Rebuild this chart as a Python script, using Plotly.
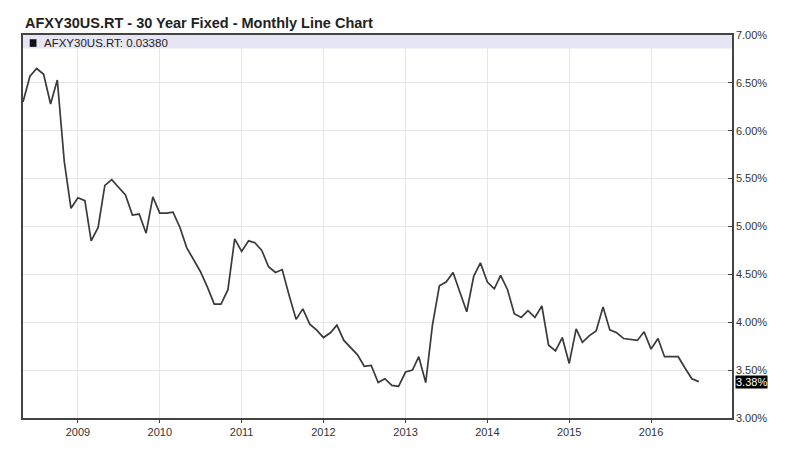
import pandas as pd
import plotly.graph_objects as go

# Monthly observations, May 2008 .. Aug 2016 (rate in percent)
months = pd.date_range("2008-05-01", "2016-08-01", freq="MS")
rates = [
    6.30, 6.57, 6.65, 6.59, 6.28, 6.53, 5.68, 5.19, 5.30, 5.27,
    4.85, 4.99, 5.43, 5.49, 5.41, 5.33, 5.12, 5.13, 4.93, 5.31,
    5.14, 5.14, 5.15, 4.99, 4.78, 4.65, 4.53, 4.37, 4.19, 4.19,
    4.34, 4.87, 4.74, 4.85, 4.83, 4.75, 4.58, 4.52, 4.55, 4.28,
    4.03, 4.14, 3.98, 3.92, 3.84, 3.89, 3.97, 3.81, 3.74, 3.66,
    3.54, 3.55, 3.37, 3.41, 3.34, 3.33, 3.48, 3.50, 3.64, 3.37,
    3.97, 4.38, 4.42, 4.52, 4.31, 4.11, 4.48, 4.62, 4.42, 4.35,
    4.49, 4.34, 4.09, 4.05, 4.12, 4.05, 4.17, 3.76, 3.70, 3.84,
    3.57, 3.93, 3.79, 3.86, 3.91, 4.16, 3.92, 3.89, 3.83, 3.82,
    3.81, 3.90, 3.72, 3.83, 3.64, 3.64, 3.64, 3.52, 3.41, 3.38,
]
year_ticks = [f"{y}-01-01" for y in range(2009, 2017)]
year_labels = [str(y) for y in range(2009, 2017)]
y_ticks = [3.0, 3.5, 4.0, 4.5, 5.0, 5.5, 6.0, 6.5, 7.0]
y_labels = [f"{v:.2f}%" for v in y_ticks]

title_text = "AFXY30US.RT - 30 Year Fixed - Monthly Line Chart"
legend_text = "AFXY30US.RT: 0.03380"
last_label = "3.38%"

FONT = "Liberation Sans, Arial, sans-serif"

fig = go.Figure()
fig.add_trace(go.Scatter(
    x=months, y=rates, mode="lines",
    line=dict(color="#3a3a3a", width=1.7),
    hoverinfo="skip", showlegend=False,
))

# legend band along the top of the plot
fig.add_shape(type="rect", xref="paper", yref="y", x0=0, x1=1, y0=6.859, y1=7.0,
              fillcolor="#e5e5f3", line=dict(width=0), layer="below")
# legend marker square
fig.add_shape(type="rect", xref="paper", yref="y", x0=0.0095, x1=0.0190,
              y0=6.876, y1=6.956, fillcolor="#111111", line=dict(width=0))

fig.add_annotation(text=legend_text, xref="paper", yref="y", x=0.0262, y=6.918,
                   xanchor="left", yanchor="middle", showarrow=False,
                   font=dict(family=FONT, size=11.5, color="#222222"))

fig.add_annotation(text=last_label, xref="paper", yref="y", x=1, y=rates[-1],
                   xanchor="left", yanchor="middle", xshift=3, showarrow=False,
                   bgcolor="#000000", borderpad=0,
                   font=dict(family=FONT, size=11, color="#ffffff"))

fig.update_layout(
    width=792, height=450,
    margin=dict(l=23, r=60, t=35, b=30),
    paper_bgcolor="white", plot_bgcolor="white",
    title=dict(text=f"<b>{title_text}</b>", x=25 / 792, xanchor="left",
               y=1 - 22.5 / 450, yanchor="middle", yref="container",
               font=dict(family=FONT, size=14.5, color="#222222")),
    font=dict(family=FONT, size=11, color="#333333"),
    xaxis=dict(
        type="date", range=["2008-05-01", "2016-12-27"],
        tickvals=year_ticks, ticktext=year_labels,
        showgrid=True, gridcolor="#e6e6e6", gridwidth=1,
        showline=True, linecolor="#444444", linewidth=1.5, mirror=True,
        ticks="outside", ticklen=3, tickcolor="#444444",
        zeroline=False, fixedrange=True,
    ),
    yaxis=dict(
        side="right", range=[3.0, 7.0],
        tickvals=y_ticks, ticktext=y_labels,
        showgrid=True, gridcolor="#e6e6e6", gridwidth=1,
        showline=True, linecolor="#444444", linewidth=1.5, mirror=True,
        ticks="inside", ticklen=4, tickcolor="#444444",
        zeroline=False, fixedrange=True,
    ),
)

fig.write_html("out.html", config={"displayModeBar": False},
               post_script="document.body.style.margin='0';")
